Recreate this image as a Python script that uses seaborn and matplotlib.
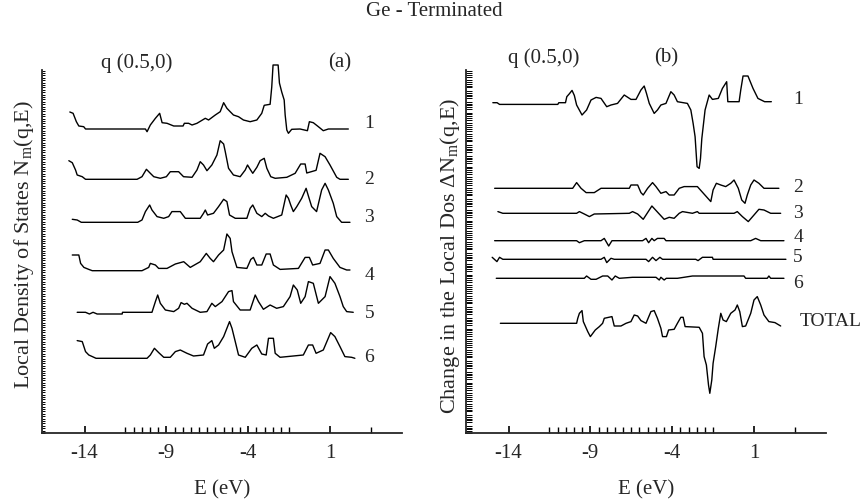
import numpy as np
import matplotlib
matplotlib.use("Agg")
import matplotlib.pyplot as plt
import seaborn as sns
from matplotlib.ticker import FixedLocator, NullLocator, NullFormatter

sns.set_style("ticks")
plt.rcParams['font.family'] = ['Liberation Serif', 'DejaVu Serif']
plt.rcParams['mathtext.fontset'] = 'custom'
plt.rcParams['mathtext.rm'] = 'Liberation Serif'
plt.rcParams['mathtext.it'] = 'Liberation Serif:italic'

# ---- panel (a): local density of states per layer (arbitrary units) ----
e_a1 = [-14.9, -14.7, -14.5, -14.35, -14.05, -13.94, -10.28, -10.18, -9.98, -9.67, -9.41, -9.26, -8.96,
        -8.55, -7.98, -7.9, -7.64, -7.43, -7.13, -6.62, -6.42, -6.01, -5.71, -5.5, -5.3, -5.1, -4.9,
        -4.59, -4.29, -3.88, -3.47, -3.17, -3.02, -2.66, -2.56, -2.48, -2.17, -2.09, -1.95, -1.8, -1.74,
        -1.64, -1.54, -1.34, -0.83, -0.38, -0.26, -0.02, 0.29, 0.59, 0.9, 2.12]
n_a1 = [17, 15.7, 7.3, 3, 2.3, 0, 0, -2.7, 4, 10.7, 15.7, 6.3, 5.7, 3, 3, 5.7, 5.7, 4, 5.7, 10.7, 9, 14,
        17.3, 26.3, 20.7, 17.3, 14, 12.3, 9, 7.3, 9, 15.7, 23.7, 24.7, 42, 64, 64, 46, 37, 29, 14, -1,
        -4.3, -0.3, 0, -1.7, 7.3, 6.3, 2.3, -1.7, 0, 0]

e_a2 = [-14.96, -14.75, -14.55, -14.45, -14.14, -13.94, -10.79, -10.49, -10.22, -9.98, -9.77, -9.37, -9.0,
        -8.76, -8.25, -7.95, -7.43, -7.13, -6.93, -6.73, -6.52, -6.22, -5.91, -5.71, -5.5, -5.4, -5.2,
        -4.9, -4.49, -4.18, -4.04, -3.88, -3.72, -3.47, -3.27, -3.02, -2.86, -2.62, -2.35, -1.64, -1.13,
        -0.79, -0.52, -0.42, 0.15, 0.39, 0.7, 1.0, 1.41, 1.61, 2.12]
n_a2 = [18.6, 16.6, 9.3, 4.3, 2.6, 0, 0, 2.6, 10, 6, 2.6, 1, 2.6, 7.6, 7.6, 2.6, 2, 9.3, 17.6, 14.3, 8.6,
        14.3, 24.3, 38.6, 35.3, 27.6, 11, 4.3, 2.6, 9.3, 14.3, 10, 6, 12, 18.6, 21, 11, 2.6, 1, 2, 6,
        15.3, 15.3, 6.3, 9, 26, 22.6, 14.3, 2, 0, 0]

e_a3 = [-14.75, -14.45, -14.2, -10.75, -10.49, -10.28, -10.02, -9.88, -9.57, -9.16, -8.86, -8.66, -8.15,
        -7.84, -6.93, -6.73, -6.62, -6.48, -6.12, -5.81, -5.5, -5.3, -5.14, -4.79, -4.08, -3.88, -3.72,
        -3.47, -3.17, -2.96, -2.76, -2.46, -1.95, -1.68, -1.54, -1.4, -1.24, -1.03, -0.73, -0.46, -0.32,
        -0.12, 0.18, 0.49, 0.7, 0.9, 1.2, 1.41, 1.71, 2.22]
n_a3 = [3, 2.3, 0, 0, 2.3, 10.7, 17.3, 12.3, 5.7, 4, 5.7, 10.7, 10.7, 4, 4, 9, 12.3, 7.3, 9, 15.7, 23,
        20.7, 7.3, 4, 4, 14, 17.3, 9, 5.7, 9, 6.3, 4, 7.3, 27.3, 24, 17.3, 10.7, 15.7, 24, 34, 26.3,
        15.7, 10.7, 32.3, 39, 32.3, 19, 5.7, 0, 0]

e_a4 = [-14.75, -14.35, -14.24, -14.04, -13.74, -13.53, -10.49, -10.08, -9.98, -9.67, -9.47, -8.96, -8.45,
        -7.94, -7.54, -6.93, -6.56, -6.32, -6.12, -5.81, -5.5, -5.3, -5.1, -4.99, -4.69, -4.08, -3.84,
        -3.68, -3.47, -3.17, -2.9, -2.66, -2.46, -2.05, -0.93, -0.52, -0.26, -0.06, 0.39, 0.7, 0.9, 1.2,
        1.61, 2.02, 2.22]
n_a4 = [15.7, 15.7, 7.3, 3.3, 1.3, 0, 0, 3.3, 7.3, 5.7, 2.3, 2.3, 6.7, 9, 3.3, 9, 17.3, 12.3, 9, 15.7,
        20.7, 36.7, 32.3, 19, 3.3, 2.3, 11.3, 13.3, 5.7, 5.7, 16.7, 16.7, 5.7, 1.3, 2.3, 13.3, 13.3, 5.7,
        7.3, 20.7, 20.7, 12.3, 3.3, 0.7, 0.7]

e_a5 = [-14.45, -13.94, -13.7, -13.48, -13.23, -11.7, -11.68, -9.88, -9.67, -9.53, -9.37, -9.06, -8.55,
        -8.25, -8.1, -7.9, -7.74, -7.43, -6.93, -6.52, -6.22, -6.01, -5.6, -5.2, -4.99, -4.9, -4.49, -3.88,
        -3.57, -3.37, -3.07, -2.66, -2.26, -1.85, -1.44, -1.24, -1.0, -0.79, -0.52, -0.32, -0.02, 0.29,
        0.7, 1.0, 1.3, 1.61, 1.81, 2.02, 2.42]
n_a5 = [0, 0, -1.7, 0, -1.7, -1.7, 0, 0, 10.7, 17.3, 9, 2.3, 0.7, 4, 9.7, 8, 9, 4, 0, 0.7, 9, 5.7, 10.7,
        20.7, 21.7, 10.7, 2.3, 2.3, 17.3, 10.7, 3, 7.3, 4, 5.7, 15.7, 27.3, 22.3, 9, 15.7, 30.7, 29, 9,
        15.7, 35.7, 29, 15.7, 5.7, 0.7, 0]

e_a6 = [-14.45, -14.14, -13.94, -13.74, -13.43, -13.3, -10.18, -9.98, -9.73, -9.47, -9.16, -8.76, -8.45,
        -8.15, -7.74, -7.34, -6.73, -6.48, -6.22, -6.07, -5.81, -5.5, -5.14, -4.99, -4.79, -4.59, -4.18,
        -3.78, -3.47, -3.17, -2.9, -2.76, -2.46, -2.35, -2.05, -0.63, -0.32, -0.06, 0.15, 0.59, 1.04,
        1.3, 1.61, 1.91, 2.32, 2.52]
n_a6 = [17.7, 16.7, 6.7, 3.3, 1, 0, 0, 3.3, 10, 5.7, 1, 1, 6.7, 8.3, 5, 2.3, 3.3, 14.3, 17.7, 10, 13.3,
        21.7, 36.7, 30, 16.7, 3.3, 1, 10, 13.3, 4.3, 3.3, 20, 20, 5, 1, 3.3, 13.3, 13.3, 5, 8.3, 25.7,
        21.7, 11.7, 1.7, 1, 0]

# ---- panel (b): change in local DOS (arbitrary units) ----
e_b1 = [-14.96, -14.7, -14.55, -10.99, -10.93, -10.52, -10.44, -10.28, -10.12, -9.98, -9.84, -9.51, -9.23,
        -8.96, -8.65, -8.35, -8.0, -7.74, -7.34, -6.93, -6.52, -6.21, -5.91, -5.71, -5.57, -5.4, -5.1,
        -4.9, -4.69, -4.38, -4.08, -3.88, -3.68, -3.07, -2.86, -2.72, -2.6, -2.48, -2.35, -2.27, -2.19,
        -1.99, -1.74, -1.54, -1.18, -0.93, -0.67, -0.6, 0.09, 0.19, 0.33, 0.63, 0.94, 1.24, 1.65, 2.06]
n_b1 = [0, 0, -1.7, -1.7, 0, 0, 6, 9, 12.3, 7.3, -2.3, -12.3, -7.3, 2.7, 5.3, 4.3, -4, -2.3, -0.7, 7.7,
        3.3, 3.3, 12.7, 16.7, 9.3, -0.7, -10.7, -7.3, -2.3, -0.7, 11, 7.7, 1, -0.7, -7.3, -20.7, -34,
        -64, -65.7, -55.7, -36, -7.3, 7.7, 3.3, 4.3, 14.3, 21, 1, 1, 12.7, 26.7, 26.7, 14.3, 4.3, 1, 1]

e_b2 = [-14.85, -10.08, -9.84, -9.57, -9.26, -8.76, -8.35, -6.62, -6.52, -6.11, -5.91, -5.77, -5.5, -5.2,
        -4.99, -4.69, -4.38, -4.18, -3.88, -3.57, -3.27, -2.46, -1.64, -1.5, -1.3, -1.03, -0.73, -0.42,
        -0.22, 0.04, 0.25, 0.45, 0.59, 0.8, 1.0, 1.3, 1.61, 2.52]
n_b2 = [0, 0, 5.7, 0, -4.3, -4.3, 0, 0, 3.3, 3.3, -4.3, -6.7, 0, 5.7, 1.7, -5, -3.3, -6.7, -6.7, 0, 1.7,
        1.7, -13.3, -1.7, 5, 3.3, 1.7, 5, 8.3, 0, -11.7, -15, -6.7, 3.3, 8.3, 5, 0, 0]

e_b3 = [-14.65, -14.35, -9.84, -9.67, -9.37, -9.06, -8.76, -6.62, -6.42, -6.11, -5.77, -5.24, -4.79, -4.49,
        -4.18, -3.88, -3.57, -3.37, -2.76, -2.46, -2.35, -0.22, -0.02, 0.29, 0.65, 1.0, 1.3, 1.61, 2.02,
        2.63]
n_b3 = [1.7, 0, 0, 1.7, -0.7, -3.3, -0.7, 0, 1.7, -0.7, -6, 7.3, -0.7, -6, -4, -5, 0, 1.7, 0, 1.7, 0, 0,
        1.7, -3.3, -8.3, -1.7, 4, 3.3, 0, 0]

e_b4 = [-14.85, -9.84, -9.67, -9.37, -8.35, -8.15, -7.88, -7.68, -5.81, -5.6, -5.44, -5.24, -5.1, -4.9,
        -4.49, -4.38, 0.8, 1.1, 1.41, 2.83]
n_b4 = [0, 0, -2, 0, 0, 2.3, -5.3, 0, 0, 2.3, -2, 2.3, 0, 2.3, 2.3, 0, 0, 2.3, 0, 0]

e_b5 = [-15.0, -14.71, -14.55, -14.35, -8.35, -8.15, -8.0, -7.74, -7.54, -5.6, -5.44, -5.2, -4.99, -4.75,
        -4.59, -2.56, -2.42, -2.15, -1.54, -1.5, 2.95]
n_b5 = [2, -2.3, 2, 0, 0, 2, -3.3, 1, 0, 0, -2.3, 2, -1.3, 2, 0, 0, -1.3, 2, 2, 0, 0]

e_b6 = [-14.75, -9.37, -9.23, -8.96, -8.65, -8.25, -7.94, -7.68, -7.48, -7.23, -6.42, -4.99, -4.79, -4.69,
        -4.49, -4.36, -3.68, -2.76, 0.39, 0.49, 1.81, 1.91, 2.02, 2.83]
n_b6 = [0, 0, 2.3, -1, -1, 2.3, 2.3, -1.7, 2.3, 0, 1, 1, -1.7, 1, -1.7, 0, 0, 2.3, 2.3, 0, 0, 2.3, 0, 0]

e_bt = [-14.5, -9.84, -9.77, -9.67, -9.51, -9.43, -9.16, -9.0, -8.7, -8.45, -8.25, -8.15, -7.68, -7.54,
        -7.13, -6.82, -6.52, -6.32, -6.11, -5.91, -5.6, -5.3, -5.1, -4.9, -4.69, -4.59, -4.35, -4.22,
        -3.88, -3.68, -3.47, -3.33, -3.21, -2.35, -2.15, -2.05, -1.91, -1.78, -1.7, -1.58, -1.5, -1.34,
        -1.18, -1.03, -0.89, -0.69, -0.42, -0.16, -0.02, 0.13, 0.29, 0.49, 0.8, 1.0, 1.2, 1.41, 1.61,
        1.91, 2.28, 2.63]
n_bt = [0, 0, 5, 10, 12.7, 1.7, -8.3, -13.3, -6.7, -3.3, 0, 5, 6.7, -2.7, -2.7, 0, 1.7, 8.3, 7.3, 2.7, 0,
        11.7, 12.7, 5, -5, -13.3, -13.3, -6.7, -6, 0, 6, 6, -3.3, -4, -10, -33.3, -41.7, -61.7, -70,
        -56.7, -40, -23.3, -5, 10, 3.3, 1.7, 10, 13.3, 18.3, 11.7, -3.3, -2.7, 10, 23.3, 26.7, 18.3,
        8.3, 1.7, 0.7, -2.7]

labels_a = ["1", "2", "3", "4", "5", "6"]
labels_b = ["1", "2", "3", "4", "5", "6", "TOTAL"]

curves_a = [(e_a1, n_a1), (e_a2, n_a2), (e_a3, n_a3), (e_a4, n_a4), (e_a5, n_a5), (e_a6, n_a6)]
curves_b = [(e_b1, n_b1), (e_b2, n_b2), (e_b3, n_b3), (e_b4, n_b4), (e_b5, n_b5), (e_b6, n_b6),
            (e_bt, n_bt)]

# vertical stacking offsets
offsets_a = [304, 253.7, 210.7, 162.3, 120.7, 74.7]
offsets_b = [330.3, 244.7, 219.7, 192.3, 173.7, 154.7, 109.7]
label_y_a = [310, 253, 215, 158, 120, 75]
label_y_b = [333, 245, 219, 196, 176, 150, 111]

fig = plt.figure(figsize=(8.68, 5.03), dpi=100)
ax_a = fig.add_axes([42 / 868, 70 / 503, 360 / 868, 363 / 503])
ax_b = fig.add_axes([466 / 868, 70 / 503, 360 / 868, 363 / 503])

for ax, curves, offs in [(ax_a, curves_a, offsets_a), (ax_b, curves_b, offsets_b)]:
    for (e, n), off in zip(curves, offs):
        sns.lineplot(x=e, y=np.array(n) + off, ax=ax, color='black', linewidth=1.0,
                     estimator=None, sort=False)
    for line in ax.get_lines():
        line.set_clip_on(False)

# dense unlabeled y ticks (left: fine, right: grouped)
yt_a = np.arange(0, 363, 2.4)
yt_b = np.array([v for i, v in enumerate(np.arange(0, 363, 1.8)) if i % 6 != 5])

for ax, yt, ylen in [(ax_a, yt_a, 2.0), (ax_b, yt_b, 4.5)]:
    ax.set_xlim(-16.6, 5.4)
    ax.set_ylim(0, 363)
    sns.despine(ax=ax)
    ax.spines['left'].set_linewidth(1.3)
    ax.spines['bottom'].set_linewidth(1.3)
    ax.set_xticks([-14, -9, -4, 1])
    ax.set_xticklabels(["-14", "-9", "-4", "1"], fontsize=15)
    ax.xaxis.set_minor_locator(FixedLocator(list(np.arange(-11.5, -1.4, 0.5)) + [3.5]))
    ax.yaxis.set_major_locator(FixedLocator(yt))
    ax.yaxis.set_minor_locator(NullLocator())
    ax.yaxis.set_major_formatter(NullFormatter())
    ax.tick_params(which='both', direction='in', color='black')
    ax.tick_params(axis='x', which='major', length=5, width=1.2, pad=8)
    ax.tick_params(axis='x', which='minor', length=4, width=1.0)
    ax.tick_params(axis='y', which='major', length=ylen, width=0.7)
    ax.set_xlabel("E (eV)", fontsize=15, labelpad=12)

ax_a.set_ylabel(r"Local Density of States N$_{\rm m}$(q,E)", fontsize=16, labelpad=0)
ax_b.set_ylabel(r"Change in the Local Dos $\Delta$N$_{\rm m}$(q,E)", fontsize=16, labelpad=0)
ax_a.yaxis.set_label_coords(-0.018, 0.52)
ax_b.yaxis.set_label_coords(-0.012, 0.488)

for lab, y in zip(labels_a, label_y_a):
    ax_a.text(3.4, y, lab, fontsize=14, ha='center', va='center')
for lab, y in zip(labels_b, label_y_b):
    if lab == "TOTAL":
        ax_b.text(3.8, y, lab, fontsize=14, ha='left', va='center')
    else:
        ax_b.text(3.7, y, lab, fontsize=14, ha='center', va='center')

ax_a.text(0.264, 1.019, "q (0.5,0)", transform=ax_a.transAxes, fontsize=15, ha='center', va='center')
ax_a.text(0.828, 1.019, "(a)", transform=ax_a.transAxes, fontsize=15, ha='center', va='center')
ax_b.text(0.217, 1.033, "q (0.5,0)", transform=ax_b.transAxes, fontsize=15, ha='center', va='center')
ax_b.text(0.556, 1.033, "(b)", transform=ax_b.transAxes, fontsize=15, ha='center', va='center')

fig.text(0.5, 1 - 12 / 503, "Ge - Terminated", ha='center', va='center', fontsize=15)

fig.savefig("out.png", dpi=100)
